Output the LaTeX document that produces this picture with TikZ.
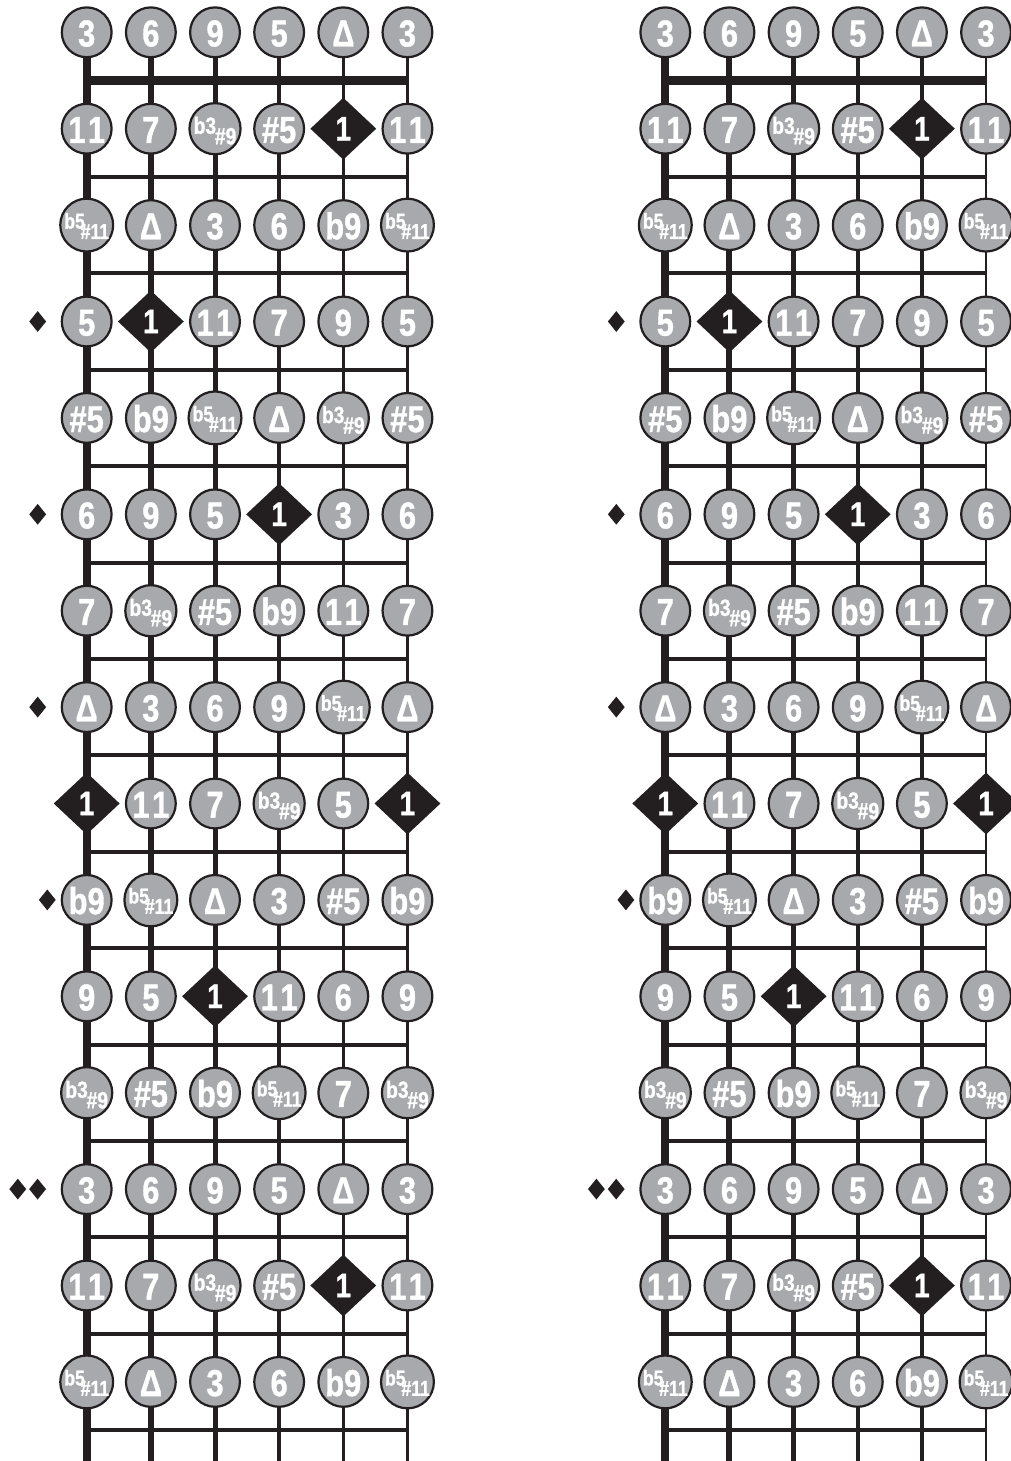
\documentclass[tikz,border=0pt]{standalone}
\usepackage{fontspec}
\setmainfont{Liberation Sans}
\newfontfamily\notefont{Liberation Sans}[FakeBold=1,FakeStretch=0.82]
\usepackage{graphicx}
\usetikzlibrary{shapes.geometric}
\definecolor{ink}{HTML}{231F20}
\definecolor{notegray}{HTML}{A7A9AC}
\pgfdeclarelayer{bg}
\pgfsetlayers{bg,main}

\newcommand\bthreenine{{\fontsize{23.5}{23.5}\selectfont\raisebox{9pt}{b3}\kern-1.2pt\raisebox{-1.5pt}{\#9}}}
\newcommand\bfiveeleven{{\fontsize{21.5}{21.5}\selectfont\raisebox{10.6pt}{b5}\kern-4.2pt\raisebox{0.3pt}{\#11}}}
\def\deflab#1#2{\expandafter\def\csname lt@#1\endcsname{#2}}
\deflab{3}{3}\deflab{6}{6}\deflab{9}{9}\deflab{5}{5}\deflab{7}{7}\deflab{11}{1\kern2.5pt1}
\deflab{D}{Δ}\deflab{s5}{\#5}\deflab{b9}{b9}\deflab{R}{1}
\deflab{b3}{\bthreenine}\deflab{b5}{\bfiveeleven}

\tikzset{
  note/.style={circle,draw=ink,fill=notegray,line width=2.2pt,minimum size=49.8pt,
    inner sep=0pt,text=white,font=\notefont\bfseries\fontsize{37.5}{37.5}\selectfont,
    text height=28.3pt,text depth=0pt},
  root/.style={diamond,fill=ink,minimum width=66pt,minimum height=62pt,inner sep=0pt,
    text=white,font=\notefont\bfseries\fontsize{34}{34}\selectfont},
  sidemark/.style={diamond,fill=ink,minimum width=17pt,minimum height=21pt,inner sep=0pt},
  nutline/.style={draw=ink,line width=9.5pt},
  fretline/.style={draw=ink,line width=4pt},
  lab/3/.style=note, lab/6/.style=note, lab/9/.style=note, lab/5/.style=note,
  lab/7/.style=note, lab/11/.style=note, lab/D/.style=note, lab/s5/.style=note,
  lab/b9/.style=note, lab/b3/.style=note, lab/b5/.style=note, lab/R/.style=root,
}

\newcommand\board[2]{%
  \foreach \row [count=\r from 0] in {{3,6,9,5,D,3},{11,7,b3,s5,R,11},{b5,D,3,6,b9,b5},
      {5,R,11,7,9,5},{s5,b9,b5,D,b3,s5},{6,9,5,R,3,6},{7,b3,s5,b9,11,7},{D,3,6,9,b5,D},
      {R,11,7,b3,5,R},{b9,b5,D,3,s5,b9},{9,5,R,11,6,9},{b3,s5,b9,b5,7,b3},
      {3,6,9,5,D,3},{11,7,b3,s5,R,11},{b5,D,3,6,b9,b5}}{
    \foreach \code [count=\c from 0] in \row {
      \node[lab/\code] (#1-\r-\c) at ({#2+86.7+64.15*\c},{32.3+96.4*\r}) {\csname lt@\code\endcsname};
    }
  }
  % side markers
  \node[sidemark] (#1-m3) at ({#2+37.7},{32.3+96.4*3}) {};
  \node[sidemark] (#1-m5) at ({#2+37.7},{32.3+96.4*5}) {};
  \node[sidemark] (#1-m7) at ({#2+37.7},{32.3+96.4*7}) {};
  \node[sidemark] (#1-m9) at ({#2+47.3},{32.3+96.4*9}) {};
  \node[sidemark] (#1-m12a) at ({#2+17.8},{32.3+96.4*12}) {};
  \node[sidemark] (#1-m12b) at ({#2+37.6},{32.3+96.4*12}) {};
  % coordinates
  \coordinate (#1-nut-a) at ({#2+86.7},80.5);
  \coordinate (#1-nut-b) at ({#2+407.45},80.5);
  \foreach \k in {1,...,14}{
    \coordinate (#1-f\k-a) at ({#2+86.7},{32.3+96.4*\k+48.2});
    \coordinate (#1-f\k-b) at ({#2+407.45},{32.3+96.4*\k+48.2});
  }
  \foreach \s in {0,...,5}{
    \coordinate (#1-end-\s) at ({#2+86.7+64.15*\s},1470);
  }
  \begin{pgfonlayer}{bg}
    \draw[nutline] (#1-nut-a) -- (#1-nut-b);
    \foreach \k in {1,...,14}{
      \draw[fretline] (#1-f\k-a) -- (#1-f\k-b);
    }
    \foreach \s/\w in {0/8pt,1/6pt,2/5pt,3/4pt,4/3.3pt,5/2.7pt}{
      \draw[draw=ink,line width=\w] (#1-0-\s.center) -- (#1-end-\s);
    }
  \end{pgfonlayer}
}

\begin{document}
\begin{tikzpicture}[x=1pt,y=-1pt]
  \useasboundingbox (0,0) rectangle (1011,1461);
  \board{L}{0}
  \board{R}{578.6}
\end{tikzpicture}
\end{document}
